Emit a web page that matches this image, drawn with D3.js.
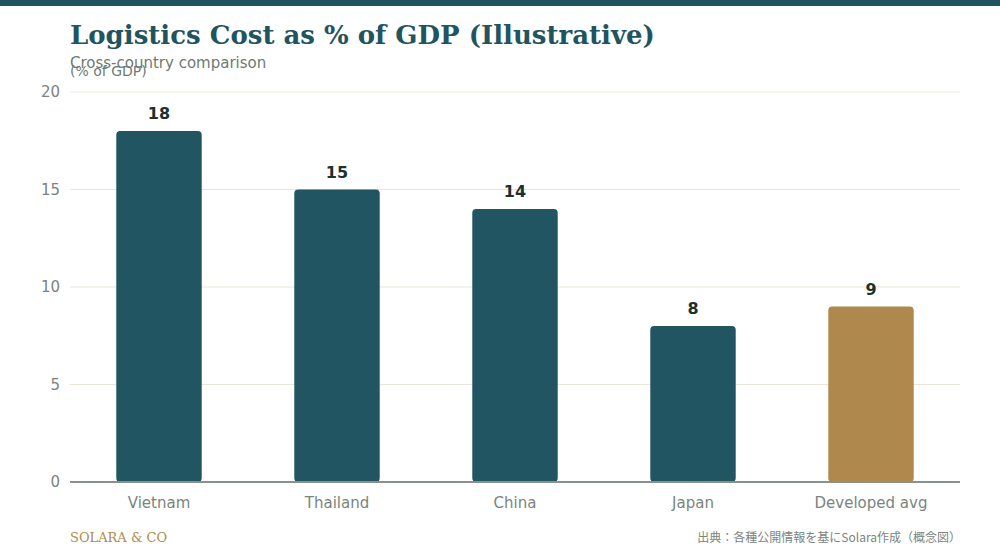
<!DOCTYPE html>
<html>
<head>
<meta charset="utf-8">
<script src="https://d3js.org/d3.v7.min.js"></script>
<style>
  body { margin: 0; background: #fff; }
</style>
</head>
<body>
<div id="chart"></div>
<script>
const countries = ["Vietnam", "Thailand", "China", "Japan", "Developed avg"];
const costPct = [18, 15, 14, 8, 9];
const yTicks = [0, 5, 10, 15, 20];

const width = 1000, height = 560;
const margin = { left: 70, right: 40, top: 92, bottom: 78 };

const svg = d3.select("#chart")
  .append("svg")
  .attr("width", width)
  .attr("height", height);

// top accent strip
svg.append("rect")
  .attr("x", 0).attr("y", 0)
  .attr("width", width).attr("height", 6)
  .attr("fill", "#1f5460");

svg.append("text")
  .attr("x", 70).attr("y", 44)
  .attr("font-family", "DejaVu Serif, serif")
  .attr("font-weight", "bold")
  .attr("font-size", 26)
  .attr("fill", "#1f5460")
  .text("Logistics Cost as % of GDP (Illustrative)");

svg.append("text")
  .attr("x", 70).attr("y", 68)
  .attr("font-family", "DejaVu Sans, sans-serif")
  .attr("font-size", 15)
  .attr("fill", "#6e7a74")
  .text("Cross-country comparison");

svg.append("text")
  .attr("x", 70).attr("y", 76)
  .attr("font-family", "DejaVu Sans, sans-serif")
  .attr("font-size", 14)
  .attr("fill", "#6e7a74")
  .text("(% of GDP)");

const xScale = d3.scaleBand()
  .domain(countries)
  .range([margin.left, width - margin.right])
  .paddingInner(0.52)
  .paddingOuter(0.26);

const yScale = d3.scaleLinear()
  .domain([0, 20])
  .range([height - margin.bottom, margin.top]);

// gridlines
svg.selectAll("line.grid")
  .data(yTicks.filter(d => d > 0))
  .join("line")
  .attr("class", "grid")
  .attr("x1", margin.left)
  .attr("x2", width - margin.right)
  .attr("y1", d => yScale(d))
  .attr("y2", d => yScale(d))
  .attr("stroke", "#ebe5d9")
  .attr("stroke-width", 1);

// y tick labels
svg.selectAll("text.ytick")
  .data(yTicks)
  .join("text")
  .attr("class", "ytick")
  .attr("x", 60)
  .attr("y", d => yScale(d))
  .attr("dy", "0.35em")
  .attr("text-anchor", "end")
  .attr("font-family", "DejaVu Sans, sans-serif")
  .attr("font-size", 15)
  .attr("fill", "#7a847e")
  .text(d => d);

// bars
svg.selectAll("rect.bar")
  .data(costPct)
  .join("rect")
  .attr("class", "bar")
  .attr("x", (_, i) => xScale(countries[i]))
  .attr("y", d => yScale(d))
  .attr("width", xScale.bandwidth())
  .attr("height", d => yScale(0) - yScale(d))
  .attr("rx", 4)
  .attr("fill", (_, i) => countries[i] === "Developed avg" ? "#ae884c" : "#215561");

// baseline
svg.append("line")
  .attr("x1", margin.left)
  .attr("x2", width - margin.right)
  .attr("y1", yScale(0))
  .attr("y2", yScale(0))
  .attr("stroke", "#8a918a")
  .attr("stroke-width", 2);

// value labels
svg.selectAll("text.val")
  .data(costPct)
  .join("text")
  .attr("class", "val")
  .attr("x", (_, i) => xScale(countries[i]) + xScale.bandwidth() / 2)
  .attr("y", d => yScale(d) - 12)
  .attr("text-anchor", "middle")
  .attr("font-family", "DejaVu Sans, sans-serif")
  .attr("font-weight", "bold")
  .attr("font-size", 16)
  .attr("fill", "#1c302c")
  .text(d => d);

// x labels
svg.selectAll("text.xlab")
  .data(countries)
  .join("text")
  .attr("class", "xlab")
  .attr("x", d => xScale(d) + xScale.bandwidth() / 2)
  .attr("y", 508)
  .attr("text-anchor", "middle")
  .attr("font-family", "DejaVu Sans, sans-serif")
  .attr("font-size", 15)
  .attr("fill", "#7a847e")
  .text(d => d);

// footer
svg.append("text")
  .attr("x", 70).attr("y", 542)
  .attr("font-family", "DejaVu Serif, serif")
  .attr("font-size", 13)
  .attr("fill", "#b08a4e")
  .text("SOLARA & CO");

svg.append("text")
  .attr("x", 961).attr("y", 542)
  .attr("text-anchor", "end")
  .attr("font-family", "Noto Sans CJK JP, DejaVu Sans, sans-serif")
  .attr("font-size", 12)
  .attr("fill", "#7a847e")
  .text("出典：各種公開情報を基にSolara作成（概念図）");
</script>
</body>
</html>
